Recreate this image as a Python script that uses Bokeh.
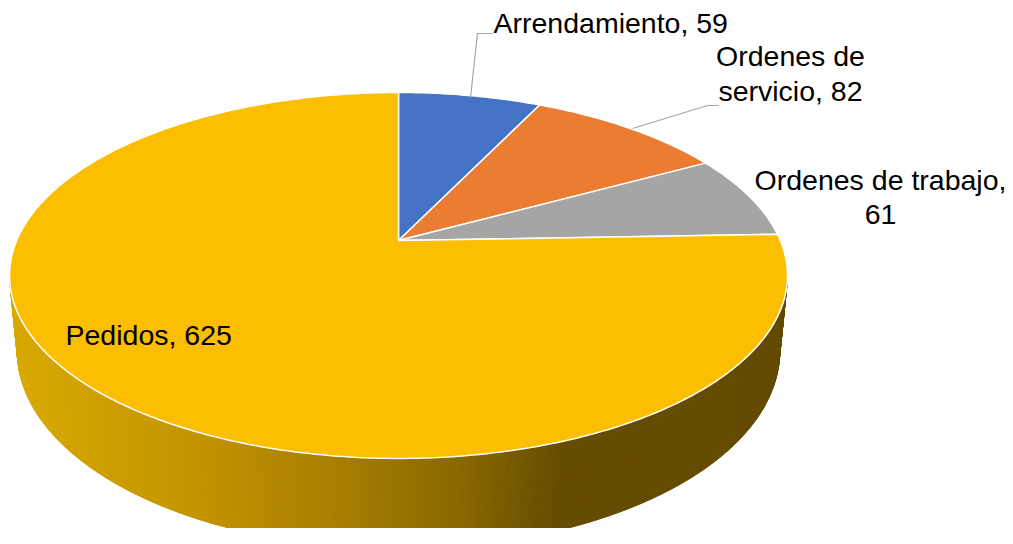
import numpy as np
from bokeh.plotting import figure
from bokeh.models import Range1d
from bokeh.embed import file_html
from bokeh.resources import INLINE
from bokeh.core.properties import value

# ---------------- data ----------------
categories = ["Arrendamiento", "Ordenes de servicio", "Ordenes de trabajo", "Pedidos"]
values = [59, 82, 61, 625]
colors = ["#4472C4", "#EB7D32", "#A5A5A5", "#FBBE00"]

# label layout (picture pixels): (x, first line y, align, line split)
label_layout = [
    (493, 22, "left", None),
    (790, 55, "center", "Ordenes de"),
    (880, 179, "center", "Ordenes de trabajo,"),
    (65, 334, "left", None),
]

# ---------------- geometry (picture pixels) ----------------
CX, CY = 398.0, 240.0
A, B, K = 381.8, 176.3, 0.191
H = 73.0
SHRINK = 0.98

W, HGT = 1005, 528


def top_pt(phi):
    u, v = np.sin(phi), np.cos(phi)
    d = 1 + K * v
    return CX + A * u / d, CY - B * v / d


def bot_pt(phi):
    x, y = top_pt(phi)
    v = np.cos(phi)
    return CX + (x - CX) * SHRINK, y + H / (1 + K * v)


def hex2rgb(h):
    h = h.lstrip("#")
    return np.array([int(h[i:i + 2], 16) for i in (0, 2, 4)], dtype=float)


grad_x = [20, 200, 350, 460, 560, 800]
grad_c = [hex2rgb(c) for c in ["#D8A800", "#C29300", "#A47C00", "#886800", "#664C00", "#634A00"]]


def side_color(x):
    rgb = [np.interp(x, grad_x, [c[i] for c in grad_c]) for i in range(3)]
    return "#%02x%02x%02x" % tuple(int(round(c)) for c in rgb)


p = figure(width=W, height=HGT, output_backend="svg", toolbar_location=None,
           x_range=Range1d(0, W), y_range=Range1d(-HGT, 0),
           min_border=0, outline_line_color=None, background_fill_color="white")
p.axis.visible = False
p.grid.visible = False

# ---------------- side (front wall of the pie) ----------------
phi_r = np.arccos(-K)
phi_l = 2 * np.pi - phi_r
N = 260
edges = np.linspace(phi_r, phi_l, N + 1)
xs_list, ys_list, cols = [], [], []
for i in range(N):
    a0, a1 = edges[i], edges[i + 1]
    tx0, ty0 = top_pt(a0)
    tx1, ty1 = top_pt(a1)
    bx0, by0 = bot_pt(a0)
    bx1, by1 = bot_pt(a1)
    xs_list.append([tx0, tx1, bx1, bx0])
    ys_list.append([-ty0, -ty1, -by1, -by0])
    cols.append(side_color((tx0 + tx1) / 2))
p.patches(xs_list, ys_list, fill_color=cols, line_color=cols, line_width=1)

# ---------------- top surface slices ----------------
total = float(sum(values))
start = 0.0
for val, col in zip(values, colors):
    ang = 2 * np.pi * val / total
    n = max(8, int(ang / (2 * np.pi) * 600))
    ph = np.linspace(start, start + ang, n)
    ax, ay = top_pt(ph)
    xs = np.concatenate([[CX], ax])
    ys = np.concatenate([[-CY], -ay])
    p.patch(xs, ys, fill_color=col, line_color="white", line_width=1.5)
    start += ang

# ---------------- leader lines ----------------
p.line([492, 477, 470], [-33, -33, -97], line_color="#A6A6A6", line_width=1.2)
p.line([718, 707, 632], [-105, -105, -128], line_color="#A6A6A6", line_width=1.2)

# ---------------- labels ----------------
FONT = value("Liberation Sans")
for cat, val, (lx, ly, al, split) in zip(categories, values, label_layout):
    full = f"{cat}, {val}"
    if split is not None:
        lines = [split, full[len(split):].strip()]
    else:
        lines = [full]
    for j, t in enumerate(lines):
        p.text(x=[lx], y=[-(ly + j * 35)], text=[t], text_font=FONT,
               text_font_size="28.5px", text_color="#000000",
               text_align=al, text_baseline="alphabetic")

open("out.html", "w").write(file_html(p, INLINE))
